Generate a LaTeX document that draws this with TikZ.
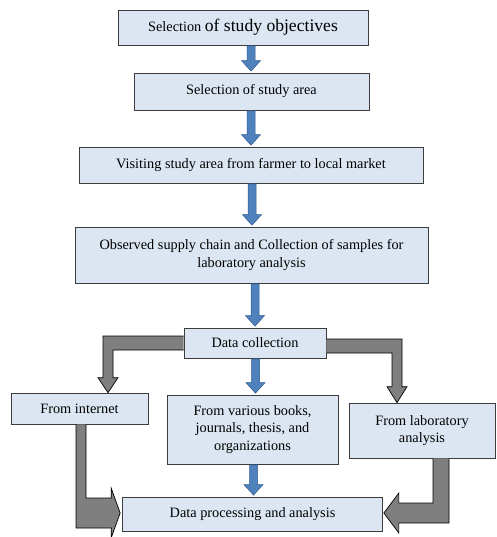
\documentclass[tikz,border=0pt]{standalone}
\usepackage{fontspec}
\setmainfont{Liberation Serif}
\usetikzlibrary{calc}
\definecolor{boxfill}{RGB}{220,230,242}
\definecolor{boxline}{RGB}{60,60,60}
\definecolor{bluefill}{RGB}{79,129,189}
\definecolor{blueline}{RGB}{46,90,142}
\definecolor{grayfill}{RGB}{127,127,127}
\tikzset{
  box/.style={draw=boxline, fill=boxfill, line width=0.7pt, inner sep=0pt, align=center,
    font=\fontsize{14.3}{17.5}\selectfont},
  bluearrow/.style={fill=bluefill, draw=blueline, line width=0.5pt},
  grayarrow/.style={fill=grayfill, draw=black, line width=0.7pt, line join=miter},
}
\newcommand\blockarrow[3]{%
  \coordinate (tmpx) at (#1,0);
  \draw[bluearrow] ($(tmpx |- #2.south)+(-4,0.6)$) -- ($(tmpx |- #3.north)+(-4,-12)$)
    -- ($(tmpx |- #3.north)+(-9.5,-12)$) -- ($(tmpx |- #3.north)+(0,-1.5)$)
    -- ($(tmpx |- #3.north)+(9.5,-12)$) -- ($(tmpx |- #3.north)+(4,-12)$)
    -- ($(tmpx |- #2.south)+(4,0.6)$) -- cycle;}
\begin{document}
\begin{tikzpicture}[x=1pt,y=-1pt]
\useasboundingbox (0,0) rectangle (496,537);
\node[box, minimum width=250pt, minimum height=35pt] (b1) at (243,27.5)
  {\fontsize{14.3}{17}\selectfont Selection {\fontsize{17.6}{20}\selectfont of study objectives}};
\node[box, minimum width=235pt, minimum height=37pt] (b2) at (251.5,91.5) {Selection of study area};
\node[box, minimum width=344pt, minimum height=36pt] (b3) at (251,165) {Visiting study area from farmer to local market};
\node[box, minimum width=353pt, minimum height=56pt] (b4) at (251.5,255)
  {Observed supply chain and Collection of samples for\\laboratory analysis};
\node[box, minimum width=142pt, minimum height=30pt] (dc) at (255,343) {Data collection};
\node[box, minimum width=137pt, minimum height=31pt] (inet) at (79.5,408.5) {From internet};
\node[box, minimum width=171pt, minimum height=69pt] (books) at (252.5,429.5)
  {From various books,\\journals, thesis, and\\organizations};
\node[box, minimum width=146pt, minimum height=55pt] (lab) at (422,430.5) {From laboratory\\analysis};
\node[box, minimum width=260pt, minimum height=34pt] (proc) at (252.5,514) {Data processing and analysis};

% blue block arrows
\blockarrow{251}{b1}{b2}
\blockarrow{251}{b2}{b3}
\blockarrow{252}{b3}{b4}
\blockarrow{255}{b4}{dc}
\blockarrow{255.5}{dc}{books}
\blockarrow{253.5}{books}{proc}

% gray elbow: data collection -> from internet
\coordinate (xl) at (108,0);
\path ($(dc.west)+(0,-7)$) coordinate (a1);
\draw[grayarrow] (a1) -- ($(xl |- a1)+(-5,0)$) -- ($(xl |- inet.north)+(-5,-15)$)
  -- ($(xl |- inet.north)+(-10,-15)$) -- (xl |- inet.north)
  -- ($(xl |- inet.north)+(10,-15)$) -- ($(xl |- inet.north)+(5,-15)$)
  -- ($(xl |- a1)+(5,14)$) -- ($(a1)+(0,14)$);

% gray elbow: data collection -> from laboratory analysis
\coordinate (xr) at (397,0);
\path ($(dc.east)+(0,-4)$) coordinate (a2);
\draw[grayarrow] (a2) -- ($(xr |- a2)+(5,0)$) -- ($(xr |- lab.north)+(5,-16)$)
  -- ($(xr |- lab.north)+(10,-16)$) -- (xr |- lab.north)
  -- ($(xr |- lab.north)+(-10,-16)$) -- ($(xr |- lab.north)+(-5,-16)$)
  -- ($(xr |- a2)+(-5,14)$) -- ($(a2)+(0,14)$);

% gray elbow: from internet -> data processing
\coordinate (xb) at (81,0);
\path ($(proc.west)+(-2,-1)$) coordinate (t1);
\draw[grayarrow] ($(xb |- inet.south)+(-5,0)$) -- ($(xb |- t1)+(-5,15)$)
  -- ($(t1)+(-9,15)$) -- ($(t1)+(-9,25)$) -- (t1) -- ($(t1)+(-9,-25)$)
  -- ($(t1)+(-9,-15)$) -- ($(xb |- t1)+(5,-15)$) -- ($(xb |- inet.south)+(5,0)$);

% gray elbow: from laboratory analysis -> data processing
\coordinate (xr2) at (441,0);
\path ($(proc.east)+(1,-1)$) coordinate (t2);
\draw[grayarrow] ($(xr2 |- lab.south)+(-8,0)$) -- ($(xr2 |- t2)+(-8,-10)$)
  -- ($(t2)+(15,-10)$) -- ($(t2)+(15,-20)$) -- (t2) -- ($(t2)+(15,20)$)
  -- ($(t2)+(15,10)$) -- ($(xr2 |- t2)+(8,10)$) -- ($(xr2 |- lab.south)+(8,0)$);
\end{tikzpicture}
\end{document}
